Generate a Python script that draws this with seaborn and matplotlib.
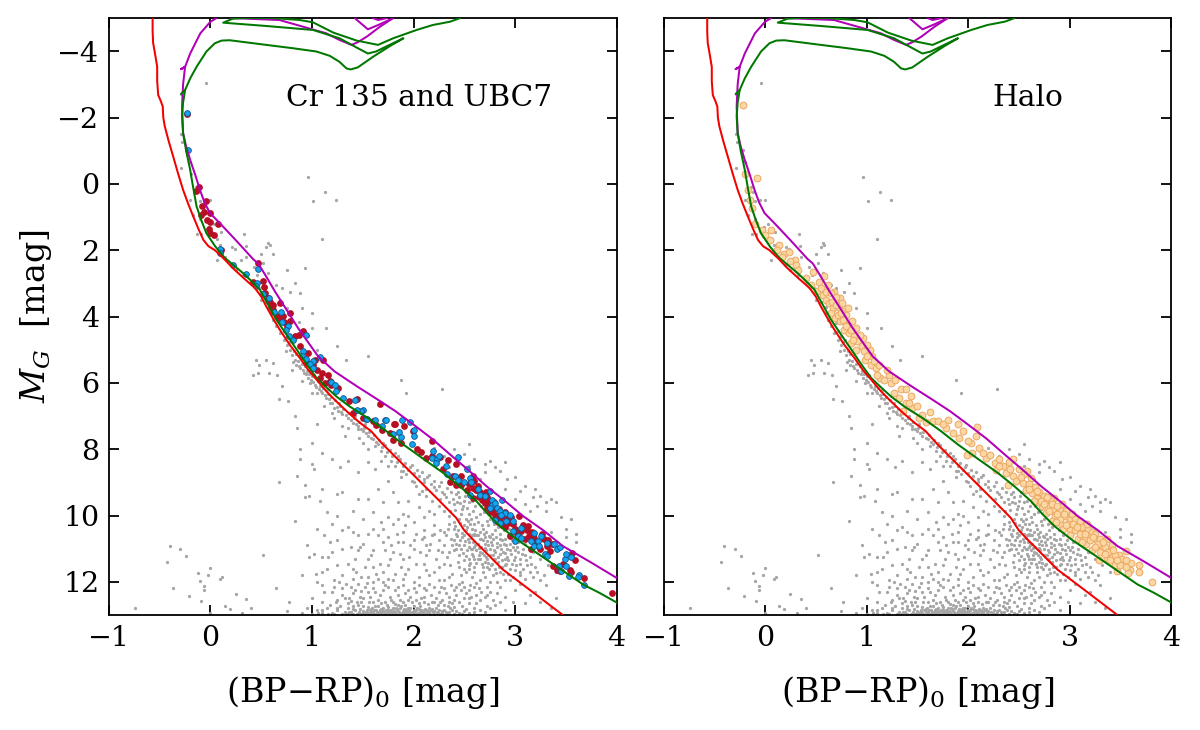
import numpy as np
import pandas as pd
import seaborn as sns
import matplotlib
matplotlib.use("Agg")
import matplotlib.pyplot as plt

sns.set_style("white")
plt.rcParams['font.family'] = ['DejaVu Serif']
plt.rcParams['mathtext.fontset'] = 'dejavuserif'
plt.rcParams['text.color'] = 'black'
plt.rcParams['axes.labelcolor'] = 'black'
plt.rcParams['xtick.labelcolor'] = 'black'
plt.rcParams['ytick.labelcolor'] = 'black'

red_iso = [(-.57,-5),(-.57,-4.6),(-.565,-4.25),(-.545,-3.9),(-.525,-3.53),(-.525,-3.1),(-.515,-2.68),(-.49,-2.5),(-.47,-2.33),(-.465,-2.0),(-.45,-1.73),(-.41,-1.27),(-.367,-.82),(-.32,-.32),(-.27,.18),(-.22,.6),(-.17,.98),(-.12,1.35),(-.07,1.69),(-.02,1.88),(.043,2.0),(.13,2.25),(.22,2.54),(.33,2.85),(.437,3.14),(.5,3.4),(.55,3.7),(.62,4.08),(.683,4.4),(.78,4.85),(.88,5.25),(.96,5.6),(1.044,5.9),(1.14,6.25),(1.24,6.56),(1.35,6.88),(1.47,7.2),(1.58,7.45),(1.7,7.86),(1.86,8.35),(2.03,8.87),(2.22,9.45),(2.42,10.07),(2.5,10.45),(2.6,10.77),(2.74,11.2),(2.88,11.63),(3.17,12.3),(3.47,13)]
green_iso = [(4,12.62),(3.83,12.33),(3.67,12.08),(3.44,11.6),(3.21,11.12),(3.03,10.75),(2.85,10.32),(2.73,9.95),(2.62,9.57),(2.46,9.13),(2.29,8.71),(2.1,8.3),(1.9,7.86),(1.73,7.45),(1.57,7.1),(1.37,6.71),(1.24,6.41),(1.13,6.1),(1.044,5.85),(.95,5.45),(.85,5.0),(.75,4.55),(.65,4.1),(.56,3.6),(.486,3.19),(.4,2.92),(.32,2.69),(.23,2.46),(.14,2.23),(.05,1.9),(-.04,1.49),(-.09,1.1),(-.137,.68),(-.17,.12),(-.2,-.42),(-.24,-1.0),(-.27,-1.53),(-.28,-2.03),(-.27,-2.45),(-.25,-2.83),(-.2,-3.18),(-.137,-3.53),(-.04,-3.99),(.043,-4.24),(.11,-4.32),(.19,-4.33),(.55,-4.19),(.81,-4.09),(1.044,-3.99),(1.175,-3.86),(1.27,-3.68),(1.34,-3.48),(1.38,-3.45),(1.45,-3.51),(1.6,-3.83),(1.77,-4.16),(1.9,-4.39),(1.73,-4.14),(1.63,-3.99),(1.55,-3.93),(1.47,-4.06),(1.27,-4.39),(1.01,-4.64),(.55,-4.76),(.125,-4.86),(.22,-4.98),(.32,-5),(.61,-5),(.88,-4.94),(1.01,-4.87),(1.21,-4.56),(1.44,-4.32),(1.65,-4.19),(1.8,-4.39),(2.03,-4.64),(2.19,-4.79),(2.36,-4.89),(2.46,-5)]
green_hook = [(-.29,-2.71),(-.25,-2.83)]
purple_iso = [(4,11.88),(3.74,11.4),(3.47,10.92),(3.28,10.45),(3.08,10.02),(2.9,9.56),(2.72,9.12),(2.54,8.63),(2.36,8.16),(2.18,7.68),(2,7.26),(1.82,6.85),(1.65,6.51),(1.44,6.1),(1.22,5.65),(1.06,5.2),(.96,4.77),(.863,4.35),(.75,3.8),(.634,3.24),(.55,2.8),(.47,2.4),(.42,2.27),(.25,1.7),(.09,1.18),(-.006,.88),(-.06,.55),(-.104,.18),(-.15,-.27),(-.2,-.72),(-.24,-1.13),(-.27,-1.53),(-.28,-2.33),(-.27,-3.0),(-.25,-3.53),(-.29,-3.46),(-.25,-3.53),(-.2,-3.93),(-.1,-4.54),(0,-4.89),(.06,-5)]
purple_top1 = [(.2,-5),(.68,-4.94),(1.14,-4.54),(1.27,-4.34),(1.39,-4.19),(1.45,-4.27),(1.54,-4.44),(1.67,-4.74),(1.8,-5)]
purple_top2 = [(1.42,-5),(1.55,-4.66),(1.66,-4.8),(1.8,-5)]
purple_top3 = [(1.6,-5),(1.65,-4.94),(1.74,-5)]

gray_pts = [(-.04,-3.05),(-.29,-2.7),(-.29,-1.5),(-.28,-1.25),(-.22,-1.02),(-.2,-.67),(-.29,-.47),(-.19,-.3),(.965,-.2),(1.13,.24),(1.01,.53),(1.24,.48),(1.1,1.65),
(.33,1.52),(.345,1.87),(.57,1.77),(.585,1.84),(.55,1.9),(.21,1.9),(.24,1.96),(.09,1.85),(.125,1.95),(-.14,.1),(-.12,.25),(-.2,.5),(-.1,.52),(-.05,.5),(.0,.5),(-.17,.95),(-.1,1.05),(-.01,1.3),(.03,1.2),(.1,1.45),(-.13,1.5),(-.09,1.5),(.06,1.65),
(.43,2.5),(.5,2.1),(.52,2.4),(.35,2.2),(.3,2.3),(.46,2.75),(.2,2.45),(.08,2.05),(.14,2.2),(.25,2.6),(.32,2.75),(.06,2.3),(.62,2.1),(.57,2.7),(.55,3.1),(.4,3.0),(.48,3.15),(.78,3.25),(.75,2.6),(.93,2.55),(.83,3.0),(.88,3.3),(.7,3.15),(.65,3.05),(.9,3.75),(.68,3.5),(.75,3.75),(.87,4.15),(1.0,4.35),(.55,3.55),(.6,3.7),(.5,3.5),(.52,3.25),(.96,4.6),(1.0,3.9),(1.14,4.35),(1.25,4.9),(1.05,5.0),(1.33,5.3),(1.55,5.2),(1.88,5.9),(1.93,6.3),(2.28,6.2),(.45,5.3),(.48,5.45),(.47,5.7),(.55,5.3),(.42,5.75),(.58,5.7),(.66,5.75),(.62,5.4),(.7,6.1),(.67,6.5),(.76,6.55),(.83,7.0),(.85,7.35),(.88,8.0),(.88,8.3),(.85,8.8),(.67,9.0),(.93,9.07),(.93,9.44),(1.0,7.8),(1.05,7.25),(1.2,6.9),(1.3,7.3),(1.32,7.6),(1.45,7.4),(1.5,7.8),(1.65,7.85),(1.1,8.1),(1.0,8.45),(1.02,8.6),(1.2,8.3),(1.28,8.55),(1.35,8.35),(1.45,8.7),(1.55,8.4),(.97,9.4),(1.1,9.2),(1.08,9.55),(1.3,9.3),(1.45,9.5),(1.65,9.2),(1.75,8.95),(1.9,8.65),(1.62,8.6),(1.8,9.3),(1.85,9.6),(1.95,9.55),(2.05,9.35),(1.6,9.9),(1.5,10.1),(1.25,10.0),(1.2,10.25),(1.35,10.35),(1.05,10.4),(.95,10.9),(1.18,10.8),(1.2,11.1),(1.3,11.0),(1.38,10.95),(1.02,11.15),(1.1,11.25),(.97,11.25),(1.45,10.6),(1.55,10.55),(1.7,10.4),(1.8,10.25),(1.9,10.5),(2.0,10.2),(2.1,10.45),(2.2,10.3),(2.0,10.75),(1.7,10.8),(1.6,11.05),(1.8,11.1),(1.55,11.3),
(.52,11.2),(.83,10.17),(.9,11.8),(1.1,12.1),(1.05,12.0),(-.12,11.73),(.0,11.58),(-.02,11.78),(-.1,11.98),(-.06,12.13),(.09,11.9),(.11,11.85),(-.09,12.58),(.25,12.38),(.35,12.51),(.14,12.73),(.19,12.83),(.4,12.78),(.31,12.93),(-.06,12.25),(.77,12.61),(.75,12.88),(-.43,11.4),(-.4,10.93),(-.3,11),(-.24,11.23),(-.37,12.2),(-.21,12.44),(-.74,12.8),(.0,12.95),(.65,12.2),
(.6,3.9),(.62,4.1),(.65,4.3),(.68,4.5),(.72,4.7),(.75,4.85),(.78,5.0),(.8,5.15),(.83,5.3),(.74,5.05),(.84,5.45),(.88,5.55),(.92,5.7),(.96,5.85),(.98,6.0),(.94,5.72),(1.0,5.8),(1.03,6.05),(1.07,6.2),(1.1,6.3),(1.05,6.3),(1.14,6.45),(1.18,6.6),(1.22,6.75),(1.16,6.35),(1.26,6.85),(1.3,6.95),(1.35,7.05),(1.28,6.7),(1.4,7.2),(1.45,7.3),(1.5,7.45),(1.42,7.0),(1.55,7.6),(1.6,7.7),(1.52,7.25),(1.62,7.9),(1.68,8.05),(1.72,8.2),(1.78,8.35),(1.7,7.8),(1.82,8.5),(1.88,8.65),(1.93,8.75),(1.85,8.2),(1.98,8.95),(2.02,9.1),(2.08,9.25),(1.97,8.55),(2.12,9.4),(2.18,9.55),(2.25,9.7),(2.1,8.9),(2.3,9.85),(2.35,10.0),(2.2,9.15),(2.28,9.3),(2.32,9.45),(2.4,9.65),(2.42,9.35),(2.48,9.8),(2.5,9.55),(2.55,9.95),(2.35,10.25),(2.4,10.4),(2.45,10.1),(2.5,10.3),(2.55,10.55),(2.6,10.25),(2.62,10.05),(2.68,10.4),(2.72,10.15),(2.75,10.65),(2.8,10.45),(2.7,10.85),(2.65,11.1),(2.75,11.0),(2.85,10.9),(2.9,10.7),(2.95,11.05),(3.0,11.25),(3.05,11.45),(3.1,11.2),(2.8,11.3),(2.9,11.5),(3.15,11.7),(2.5,10.9),(2.45,11.2),(2.55,11.3),(2.6,11.55),(2.68,11.7),(2.52,11.7),(2.58,11.85),(2.45,11.55),(2.35,11.1),(2.25,10.75),(2.15,11.05),(2.3,11.45),(2.38,11.75),(2.48,12.0),(2.56,12.1),(2.64,12.2),(2.42,12.15),(2.3,11.95),(2.2,11.7),(2.1,11.45),(2.05,11.85),(2.15,12.05),(2.25,12.3),(2.35,12.45),(2.5,12.5),(2.65,12.55),(2.75,12.3),(2.85,12.15),(2.95,11.95),(3.05,12.05),(3.2,12.3),(3.35,12.8),
(2.3,8.2),(2.4,8.0),(2.5,8.15),(2.6,8.3),(2.55,7.85),(2.75,8.35),(2.85,8.65),(2.9,8.4),(3.0,8.85),(3.1,9.1),(3.2,9.2),(3.3,9.6),(3.25,9.4),(3.4,9.6),(3.45,10.05),(3.55,10.1),(3.35,10.5),(3.5,10.4),(3.6,10.55),(3.3,9.85),(3.1,9.65),(3.0,9.5),(2.9,9.2),(2.7,8.7),(2.65,8.9),(3.15,9.85),
(1.6,12.0),(1.75,11.9),(1.9,12.1),(2.0,12.2),(1.45,12.05),(1.3,12.2),(1.2,12.3),(1.4,12.35),(1.55,12.3),(1.7,12.25),(1.85,12.4),(2.1,12.45),(1.5,12.5),(1.65,12.55),(1.8,12.6),(1.95,12.55),(2.05,12.65),(2.2,12.6),(2.3,12.7),(2.4,12.75),(2.6,12.8),(2.8,12.7),(1.0,12.5),(1.1,12.6),(1.25,12.55),(1.35,12.65),(.95,12.8),(1.05,12.85),(1.15,12.8),(1.25,12.85),(1.35,12.8),(1.45,12.7),(1.55,12.75),(1.65,12.72),(1.75,12.75),(1.85,12.7),(1.95,12.78),(2.05,12.82),(2.15,12.78),(2.25,12.85),(2.35,12.9),(2.5,12.88),(2.7,12.9),(2.9,12.85),(.9,12.95),(1.0,12.97),(1.1,12.95),(1.2,12.93),(1.3,12.96),(1.38,12.9),(1.44,12.96),(1.5,12.88),(1.55,12.95),(1.6,12.9),(1.65,12.97),(1.7,12.88),(1.74,12.94),(1.78,12.85),(1.82,12.92),(1.86,12.97),(1.9,12.87),(1.94,12.93),(1.98,12.9),(2.02,12.96),(2.06,12.9),(2.1,12.95),(2.15,12.9),(2.2,12.96),(2.28,12.95),(2.4,12.97),(1.58,12.82),(1.68,12.82),(1.72,12.97),(1.8,12.97),(1.84,12.82),(1.92,12.98),(1.96,12.84),(2.0,12.86),(2.12,12.85),(2.18,12.82),(1.62,12.98),(1.52,12.97),(1.42,12.85),(1.32,12.9),
(2.0,11.0),(1.9,11.3),(1.75,11.5),(1.6,11.55),(1.4,11.6),(1.25,11.5),(1.48,11.85),(1.95,11.6),(1.82,11.75),(2.12,10.9),(1.85,10.8),(2.4,10.75),(2.62,10.6),(2.78,11.2),(2.92,11.25),(2.55,10.8),(2.6,10.95),(2.65,10.7),(2.58,11.15),(2.63,11.3),(2.7,11.4),(2.72,11.55),(2.55,11.5),(2.48,10.65),(2.52,10.1),(2.58,10.4),(2.42,10.55),(2.32,10.6),(2.95,10.85),(3.02,10.95),(3.08,11.0),(2.88,11.1),(2.85,11.7),(2.78,11.8),(3.2,11.55),(3.28,11.8)]

gray_band = [(.7,4.2),(.72,4.45),(.75,4.6),(.77,4.78),(.79,4.72),(.82,5.05),(.84,5.12),(.86,5.35),(.81,5.38),(.87,5.5),(.9,5.42),(.91,5.6),(.93,5.5),(.95,5.65),(.97,5.72),(.99,5.92),(1.01,5.98),(1.02,5.75),(1.04,6.12),(1.06,5.95),(1.08,6.08),(1.09,6.25),(1.11,6.15),(1.13,6.38),(1.15,6.22),(1.17,6.48),(1.19,6.42),(1.2,6.62),(1.23,6.52),(1.25,6.72),(1.27,6.62),(1.29,6.88),(1.31,6.78),(1.33,6.98),(1.36,6.92),(1.38,7.12),(1.41,7.05),(1.43,7.25),(1.46,7.18),(1.48,7.38),(1.51,7.35),(1.53,7.52),(1.56,7.48),(1.58,7.66),(1.61,7.58),(1.63,7.78),(1.66,7.72),(1.69,7.92),(1.72,7.88),(1.74,8.08),(1.77,8.02),(1.79,8.22),(1.82,8.12),(1.84,8.38),(1.87,8.3),(1.9,8.5),(1.92,8.42),(1.95,8.62),(1.98,8.48),(2.0,8.72),(2.03,8.62),(2.05,8.8),(2.08,8.7),(2.1,9.0),(2.13,8.85),(2.15,8.78),(2.17,9.05),(2.2,8.95),(2.22,9.22),(2.25,9.1),(2.27,9.0),(2.3,9.35),(2.33,9.18),(2.35,9.6),(2.37,9.28),(2.39,9.5),(2.41,9.82),(2.43,9.6),(2.45,9.45),(2.47,9.95),(2.49,9.7),(2.51,9.42),(2.53,9.78),(2.55,9.6),(2.57,10.1),(2.59,9.85),(2.61,9.7),(2.63,10.2),(2.65,9.95),(2.67,10.3),(2.69,9.88),(2.71,10.5),(2.73,10.3),(2.75,10.1),(2.77,10.55),(2.79,10.25),(2.81,10.65),(2.83,10.35),(2.85,10.55),(2.87,10.75),(2.89,10.45),(2.91,10.9),(2.93,10.6),(2.97,10.75),(3.0,11.05),(3.03,10.8),(3.07,11.15),(3.11,11.35),(3.15,11.25),
(2.4,10.2),(2.42,10.85),(2.44,10.45),(2.46,10.75),(2.47,11.0),(2.5,10.6),(2.52,10.45),(2.53,11.05),(2.54,10.7),(2.56,10.25),(2.57,11.0),(2.58,10.6),(2.59,10.8),(2.6,11.3),(2.61,10.45),(2.62,11.05),(2.63,10.85),(2.64,11.2),(2.65,10.5),(2.66,10.95),(2.67,11.45),(2.68,10.75),(2.69,11.2),(2.7,10.65),(2.71,11.05),(2.72,11.3),(2.73,10.9),(2.74,11.6),(2.76,10.8),(2.77,11.45),(2.79,11.05),(2.8,11.6),(2.82,10.95),(2.83,11.4),(2.85,11.15),(2.87,11.55),(2.9,11.3),(2.93,11.75),(2.97,11.45),(3.0,11.65),(3.05,11.8),(2.7,11.85),(2.65,11.95),(2.6,11.7),(2.75,12.0),(2.5,11.35),(2.47,11.8),(2.44,11.4),(2.4,11.05),(2.37,10.7),(2.33,11.25),(2.28,11.1),(2.22,11.3),(2.18,10.6),(2.12,11.2),(2.08,10.7),(2.02,11.45),(1.97,10.9),(1.92,11.75),(1.87,11.15),(1.77,11.3),(1.72,11.05),(1.67,11.45),(1.63,11.75),(1.58,11.2),(1.52,11.55),(1.47,10.95),(1.42,11.3),(1.35,11.45),(1.3,11.8),(1.22,11.95),(1.15,11.6),(1.4,11.9),(1.55,11.85),(1.7,11.7),(1.88,11.55),(2.12,11.65),(2.25,11.55),(2.36,11.5),
(1.3,12.4),(1.36,12.5),(1.42,12.25),(1.47,12.45),(1.52,12.15),(1.57,12.45),(1.62,12.3),(1.67,12.4),(1.72,12.1),(1.77,12.45),(1.82,12.25),(1.87,12.55),(1.92,12.35),(1.97,12.45),(2.02,12.3),(2.07,12.5),(2.12,12.25),(2.17,12.4),(2.22,12.5),(2.27,12.15),(2.32,12.35),(2.37,12.1),(2.42,12.4),(2.47,12.25),(2.52,12.35),(2.57,12.45),(2.62,12.4),(2.7,12.45),(2.78,12.55),(2.45,12.62),(2.55,12.65),(2.35,12.6),(1.12,12.3),(1.18,12.7),(1.28,12.72),(1.4,12.72),(1.48,12.62),(1.6,12.62),(1.72,12.62),(1.9,12.62),(2.0,12.72),(2.1,12.6),(2.28,12.55),(1.22,12.98),(1.34,12.98),(1.4,12.97),(1.46,12.9),(1.48,12.98),(1.54,12.86),(1.56,12.98),(1.58,12.9),(1.6,12.97),(1.63,12.85),(1.66,12.9),(1.68,12.95),(1.7,12.8),(1.73,12.86),(1.76,12.92),(1.79,12.9),(1.8,12.8),(1.83,12.96),(1.85,12.88),(1.87,12.78),(1.89,12.93),(1.91,12.82),(1.93,12.88),(1.95,12.97),(1.97,12.8),(1.99,12.95),(2.01,12.88),(2.03,12.78),(2.04,12.93),(2.07,12.84),(2.09,12.98),(2.11,12.82),(2.13,12.94),(2.17,12.86),(2.19,12.92),(2.22,12.8),(2.24,12.94),(2.3,12.85),(2.33,12.97),(2.38,12.84),(2.45,12.93),(2.55,12.95),(2.65,12.85),(1.1,12.85),(1.16,12.97),(1.25,12.78),(1.06,12.95),
(1.7,9.6),(1.55,9.5),(1.4,9.85),(1.15,9.9),(1.25,9.35),(1.75,10.05),(1.95,10.0),(2.1,10.05),(2.2,9.95),(2.3,10.5),(1.65,10.6),(1.45,11.05),(1.9,9.95),(2.05,9.75),(2.15,9.85),(1.85,10.1),(1.25,10.75),(1.5,10.85),(1.75,10.65),(1.92,10.3),(3.3,12.1),(3.15,12.4),(3.0,12.25),(2.9,12.45),(3.1,11.9),(3.25,11.95),(3.4,12.5),(2.92,8.9),(3.05,9.25),(3.18,9.45),(2.8,8.55),(3.35,9.5),(3.22,9.7),(2.45,8.3),(2.35,8.55),(2.55,8.5),(2.2,7.95),(1.85,7.55),(2.7,8.45),(3.6,10.8),(3.5,10.65)]

gray_dense = [(2.41,10.32),(2.43,10.62),(2.45,10.88),(2.46,10.22),(2.48,10.52),(2.49,11.12),(2.51,10.78),(2.52,11.22),(2.53,10.35),(2.55,10.95),(2.56,11.42),(2.57,10.68),(2.58,11.02),(2.59,11.22),(2.6,10.55),(2.61,10.88),(2.62,11.42),(2.63,10.6),(2.64,10.98),(2.65,11.32),(2.66,10.72),(2.67,11.12),(2.68,11.55),(2.69,10.55),(2.7,10.98),(2.71,11.25),(2.72,10.78),(2.73,11.42),(2.74,10.62),(2.75,11.18),(2.76,11.5),(2.77,10.9),(2.78,10.7),(2.79,11.32),(2.8,11.1),(2.81,11.72),(2.82,10.82),(2.83,11.25),(2.84,11.55),(2.85,10.72),(2.86,11.02),(2.87,11.35),(2.88,11.75),(2.89,10.85),(2.9,11.12),(2.91,11.45),(2.92,11.0),(2.93,11.35),(2.95,11.6),(2.96,11.15),(2.98,10.95),(2.99,11.35),(3.01,11.5),(3.03,11.1),(3.05,11.3),(3.08,11.6),(3.12,11.5),(3.16,11.45),(3.18,11.85),(3.22,11.7),(3.05,11.7),(2.98,11.85),(2.9,11.95),(2.82,12.0),(2.72,12.15),(2.62,12.02),(2.55,11.62),(2.5,11.6),(2.42,11.0),(2.38,10.9),(2.34,10.4),(2.3,10.9),(2.26,10.45),(2.24,11.05),(2.2,10.55),(2.16,10.85),(2.1,10.65),(2.06,11.1),(2.02,10.55),(1.96,11.25),(1.9,10.8),(1.84,10.55),(1.78,10.9),(1.68,10.2),(1.6,10.4),(1.4,10.5),(1.3,10.45),(1.12,10.6),(1.1,11.7),(1.04,11.75),(1.16,11.25),
(1.22,12.15),(1.27,12.0),(1.33,12.05),(1.38,12.15),(1.43,11.7),(1.48,12.28),(1.54,12.02),(1.6,12.2),(1.65,11.9),(1.7,12.0),(1.75,12.15),(1.8,11.95),(1.85,12.15),(1.9,11.9),(1.95,12.25),(2.0,12.0),(2.05,12.1),(2.1,12.2),(2.15,11.8),(2.2,12.15),(2.25,11.95),(2.3,12.2),(2.35,11.85),(2.4,12.25),(2.45,12.05),(2.5,12.15),(2.55,12.25),(2.6,12.15),(2.66,12.3),(2.72,12.4),(2.82,12.35),(2.4,12.55),(2.48,12.72),(2.55,12.5),(2.62,12.65),(2.72,12.72),(2.85,12.6),(2.98,12.6),(3.1,12.65),(3.25,12.6),
(1.24,12.62),(1.32,12.5),(1.38,12.58),(1.44,12.62),(1.5,12.72),(1.56,12.62),(1.62,12.72),(1.68,12.65),(1.74,12.7),(1.78,12.55),(1.82,12.68),(1.88,12.72),(1.92,12.7),(1.98,12.62),(2.02,12.55),(2.06,12.72),(2.14,12.68),(2.18,12.62),(2.24,12.7),(2.26,12.62),(2.34,12.72),(2.38,12.65),(1.36,12.92),(1.4,12.82),(1.47,12.82),(1.5,12.95),(1.53,12.9),(1.57,12.86),(1.59,12.78),(1.61,12.85),(1.64,12.92),(1.67,12.86),(1.69,12.92),(1.71,12.9),(1.75,12.86),(1.77,12.97),(1.81,12.88),(1.83,12.78),(1.86,12.92),(1.88,12.98),(1.9,12.95),(1.92,12.9),(1.94,12.82),(1.96,12.92),(1.97,12.98),(2.0,12.92),(2.02,12.85),(2.05,12.96),(2.08,12.9),(2.1,12.86),(2.14,12.88),(2.16,12.96),(2.2,12.88),(2.23,12.92),(2.26,12.97),(2.28,12.88),(2.32,12.92),(2.36,12.8),(2.42,12.88),(2.48,12.98),(2.52,12.82),(2.6,12.92),(2.75,12.8),(1.75,8.5),(1.88,8.85),(2.0,9.0),(2.12,9.2),(2.26,9.5),(2.36,9.85),(2.44,9.3),(2.52,9.28),(2.58,9.55),(2.66,9.7),(2.72,9.8),(2.6,10.6),(2.86,10.25),(2.94,10.4),(3.02,10.6),(3.1,10.85),(3.18,11.1),(3.25,11.3),(3.32,11.5),(3.4,11.7),(2.54,10.15),(2.46,9.62),(1.68,8.35),(1.55,8.0),(1.46,7.65),(1.35,7.35),(1.22,7.05),(1.12,6.7),(1.0,6.3),(.9,5.95),(.8,5.6)]

red_pts = [(-.23,-2.11),(-.14,.23),(-.11,.1),(-.045,.51),(-.08,.68),(-.06,.85),(-.005,.88),(-.09,.93),(-.03,1.08),(.0,1.15),(.07,1.2),(-.01,1.37),(.0,1.47),(.03,1.53),(.1,2.0),
(.47,2.39),(.52,2.92),(.42,2.96),(.53,3.12),(.536,3.3),(.57,3.45),(.59,3.55),(.62,3.65),(.6,3.7),(.68,3.58),(.66,3.98),(.716,3.97),(.68,4.1),(.78,3.9),(.78,4.13),(.72,4.17),(.91,4.45),(.87,4.57),(.88,4.9),(.96,5.1),(1.03,5.3),(.95,5.4),(1.01,5.45),(1.11,5.32),(1.1,5.7),(1.16,5.77),(1.08,5.85),(1.13,6.0),(1.26,6.16),(1.19,6.06),(1.36,6.56),(1.44,6.49),(1.4,6.91),(1.67,6.63),(1.5,7.06),(1.6,7.16),(1.82,7.23),(1.8,7.73),(1.63,7.26),
(1.69,7.43),(1.77,7.51),(1.81,7.24),(1.91,7.31),(1.99,7.46),(1.88,7.81),(2.03,8.0),(2.07,8.08),(2.12,8.26),(2.18,7.76),(2.18,8.21),(2.26,8.23),(2.34,8.34),(2.42,8.46),(2.29,8.61),(2.36,8.99),(2.42,9.09),(2.39,8.82),(2.47,8.8),(2.47,9.07),(2.53,9.22),(2.59,8.8),(2.6,8.97),(2.59,9.17),(2.62,9.22),(2.59,9.47),(2.67,9.52),(2.7,9.62),(2.72,9.77),(2.8,9.97),(2.82,10.07),(2.88,10.02),(2.93,10.22),(2.98,10.27),(3.04,10.0),(2.95,10.62),(3.06,10.47),(3.13,10.32),(3.14,10.62),(3.19,10.67),(3.16,11.02),(3.27,10.57),(3.31,10.92),(3.34,11.07),(3.36,10.87),(3.37,11.53),(3.41,11.63),(3.47,11.47),(3.54,11.63),(3.56,11.14),(3.59,11.35),(3.68,11.88),(3.95,12.35),(3.44,11.68),(3.55,11.71),(2.75,9.9),(2.85,10.15),(2.9,9.9),(3.0,10.4),(3.1,10.7),(3.22,10.9),(2.72,9.45),(2.65,9.3),(2.96,10.05),(2.68,9.35),(2.78,9.85),(2.84,9.8),(2.92,10.1),(2.87,10.3),(3.02,10.55),(3.12,10.45),(3.2,10.8),(3.28,10.7),(2.64,9.45),(2.74,9.6),(2.55,9.05),(2.63,9.1),(2.71,9.3),(2.79,9.6),(2.83,10.2),(2.9,10.35),(3.08,10.3),(3.17,10.5),(3.25,11.0),(3.32,10.75),(.62,3.8),(.75,4.3),(.83,4.6),(1.05,5.6),(1.18,5.95)]

blue_pts = [(-.23,-2.14),(-.22,-1.02),(.09,1.95),(.09,2.07),(.22,2.44),(.35,2.71),(.47,2.57),(.46,2.99),(.45,3.07),(.52,3.31),(.575,3.45),(.63,3.87),(.69,3.86),(.7,4.18),(.76,4.28),(.74,4.4),(.775,4.58),(.815,4.72),(.945,4.55),(.91,5.05),(.9,5.18),(.94,5.28),(1.01,5.35),(.98,5.42),(1.01,5.55),(1.08,5.22),(1.185,5.96),(1.225,6.06),(1.24,6.26),(1.31,6.46),(1.425,6.51),(1.5,6.81),(1.48,6.86),(1.53,7.09),(1.62,7.13),(1.72,7.13),(1.69,7.29),(1.8,7.53),
(1.44,6.81),(1.54,7.1),(1.73,7.13),(1.89,7.13),(1.97,7.19),(1.86,7.49),(1.88,7.63),(2.0,7.41),(2.0,7.59),(1.98,7.83),(2.19,8.06),(2.18,8.28),(2.23,8.31),(2.22,8.43),(2.25,8.21),(2.44,8.24),(2.32,8.51),(2.33,8.76),(2.53,8.61),(2.41,8.82),(2.44,8.92),(2.5,9.0),(2.56,8.87),(2.57,9.0),(2.63,9.2),(2.75,9.27),(2.65,9.37),(2.7,9.42),(2.56,9.39),(2.77,9.52),(2.87,9.52),(2.77,9.67),(2.8,9.62),(2.75,9.77),(2.82,9.77),(2.85,9.87),(2.9,9.92),(2.8,10.12),(2.86,9.97),(2.95,9.97),(2.91,10.17),(2.98,10.17),(2.85,10.22),(2.98,10.47),(3.06,10.37),(3.03,10.62),(3.06,10.67),(3.0,10.77),(3.19,10.52),(3.16,10.77),(3.23,10.77),(3.26,10.62),(3.19,10.92),(3.24,10.92),(3.31,10.82),(3.38,10.87),(3.41,11.02),(3.44,10.94),(3.29,11.17),(3.31,11.22),(3.49,11.32),(3.5,11.15),(3.55,11.25),(3.5,11.52),(3.43,11.52),(3.45,11.68),(3.53,11.83),(3.63,11.78),(3.62,11.85),(3.68,12.1)]

halo_pts = [(-.22,-2.38),(-.2,-.3),(-.08,-.18),(-.17,.18),(-.15,.48),(-.13,.72),(-.1,1.2),(-.03,1.4),(0,1.55),(.05,1.7),(.14,1.85),(.19,2.1),(.29,2.3),(.24,2.05),(.06,1.38),(.12,2.0),
(.17,2.21),(.25,2.32),(.305,2.46),(.32,2.61),(.4,2.84),(.47,2.67),(.58,2.79),(.53,2.96),(.62,3.06),(.45,3.06),(.51,3.22),(.68,3.25),(.74,3.45),(.57,3.35),(.6,3.5),(.63,3.6),(.67,3.75),(.72,3.7),(.78,3.82),(.8,3.95),(.65,3.9),(.69,4.05),(.74,4.12),(.86,4.13),(.78,4.4),(.83,4.5),(.88,4.6),(.91,4.75),(.85,4.8),(.95,4.9),(1.03,5.0),(.9,5.0),(.98,5.3),(1.04,5.45),(1.09,5.55),(1.13,5.85),(1.17,5.9),(1.22,5.75),(1.24,6.0),(1.27,6.3),(1.34,6.2),(1.39,6.19),(1.32,6.46),(1.44,6.41),(1.39,6.61),(1.36,6.86),(1.45,6.76),(1.55,6.96),(1.62,6.89),(1.58,7.19),(1.65,7.16),(1.8,7.11),(1.9,7.23),(1.78,7.36),(1.85,7.51),(1.91,7.66),(2.09,7.34),(2.08,7.61),(2.03,7.81),(2.11,7.96),(1.99,8.17),(2.04,8.11),(2.18,8.27),(2.26,8.42),(2.44,8.3),(2.34,8.52),(2.27,8.62),(2.37,8.72),(2.44,8.82),(2.39,9.07),(2.58,8.67),(2.62,8.87),(2.54,9.02),(2.47,8.97),(2.57,9.22),(2.63,9.32),(2.68,9.47),(2.73,9.72),(2.85,9.47),(2.8,9.67),(2.77,9.92),(2.9,9.82),(2.86,10.02),(2.95,10.02),(3.0,10.12),(2.91,10.27),(2.83,10.17),(3.08,10.27),(3.0,10.42),(3.13,10.52),(3.08,10.72),(3.19,10.62),(3.26,10.72),(3.16,10.87),(3.37,10.72),(3.32,10.92),(3.22,11.03),(3.41,11.08),(3.49,11.18),(3.55,11.08),(3.37,11.28),(3.29,11.33),(3.45,11.48),(3.6,11.43),(3.68,11.48),(3.68,11.71),(3.59,11.63),(3.47,11.68),(3.57,11.73),(3.81,12.01),
(.7,3.4),(.66,3.55),(.76,3.6),(.82,3.75),(.72,3.95),(.82,4.25),(.9,4.35),(.96,4.65),(1.0,4.85),(1.05,5.2),(1.12,5.45),(1.2,5.6),(1.28,5.9),(2.22,8.18),(2.3,8.3),(2.4,8.4),(2.5,8.6),(2.55,8.75),(2.6,9.05),(2.66,9.15),(2.7,9.3),(2.75,9.4),(2.82,9.55),(2.7,9.6),(2.76,9.55),(2.84,9.8),(2.92,9.65),(2.96,9.85),(3.02,9.95),(2.98,10.25),(3.05,10.1),(3.1,10.15),(3.05,10.45),(3.12,10.35),(3.18,10.4),(3.14,10.7),(3.22,10.5),(3.25,10.55),(3.3,10.7),(3.28,10.85),(3.35,10.95),(3.42,10.9),(3.25,10.95),(3.38,11.1),(3.45,11.2),(3.52,11.3),(3.4,11.35),(3.5,11.5),(3.55,11.55),(2.9,10.1),(2.93,10.4),(2.88,9.95),(2.8,9.85),(2.72,9.55),(2.65,9.55),(3.1,10.55),(3.2,10.75),(3.3,11.1),
(.55,3.15),(.6,3.25),(.65,3.3),(.7,3.65),(.75,3.9),(.77,4.1),(.8,4.3),(.85,4.4),(.87,4.7),(.93,4.55),(.97,5.05),(1.0,5.2),(1.07,5.35),(1.1,5.75),(1.42,6.6),(1.5,6.7),(1.52,7.05),(1.7,7.15),(1.75,7.25),(1.95,7.45),(2.0,7.75),(2.15,8.1),(2.3,8.5),(2.41,8.6),(2.52,8.85),(2.6,9.2),(2.68,9.25),(2.75,9.65),(2.78,9.45),(2.83,9.65),(2.88,9.7),(2.94,9.95),(3.03,10.25),(3.07,10.35),(3.15,10.55),(3.17,10.25),(3.23,10.65),(3.33,10.8),(3.43,11.05),(2.87,10.2),(2.96,10.3),(3.0,10.6),(3.12,10.8),(3.35,11.15),(3.47,11.35),(3.55,11.35)]

x_ticks = [-1, 0, 1, 2, 3, 4]
y_ticks = [-4, -2, 0, 2, 4, 6, 8, 10, 12]
x_label = "(BP\u2212RP)$_0$ [mag]"
y_label = "$M_G$  [mag]"
panel_titles = ["Cr 135 and UBC7", "Halo"]

def frame(pts):
    return pd.DataFrame(pts, columns=["color", "mag"])

def draw_lines(ax):
    for pts, col in [(purple_iso, "#b000b8"), (purple_top1, "#b000b8"), (purple_top2, "#b000b8"), (purple_top3, "#b000b8"),
                     (green_iso, "#007800"), (green_hook, "#007800"), (red_iso, "#f50000")]:
        sns.lineplot(data=frame(pts), x="color", y="mag", sort=False, estimator=None, color=col, lw=1.45, ax=ax, zorder=4)

fig, axes = plt.subplots(1, 2, figsize=(12, 7.3), dpi=100, sharey=True)
fig.subplots_adjust(left=0.0908, right=0.976, top=0.9753, bottom=0.1575, wspace=0.0925)

for ax in axes:
    sns.scatterplot(data=frame(gray_pts + gray_band + gray_dense), x="color", y="mag", color="#a6a6a6", s=5.5, linewidth=0, ax=ax, zorder=1)

sns.scatterplot(data=frame(red_pts), x="color", y="mag", color="#b80f24", s=24, linewidth=0, ax=axes[0], zorder=2)
sns.scatterplot(data=frame(blue_pts), x="color", y="mag", color="#12a5f0", edgecolor="#10508c", s=17, linewidth=0.6, ax=axes[0], zorder=3)
sns.scatterplot(data=frame(halo_pts), x="color", y="mag", color="#fbd7a3", edgecolor="#eba863", s=24, linewidth=0.7, ax=axes[1], zorder=2)

for ax, title, tx in zip(axes, panel_titles, [2.055, 2.585]):
    draw_lines(ax)
    ax.set_xlim(-1, 4)
    ax.set_ylim(13, -5)
    ax.set_xticks(x_ticks)
    ax.set_yticks(y_ticks)
    ax.tick_params(axis="both", which="major", direction="in", top=True, right=True, bottom=True, left=True,
                   length=7.5, width=1.3, labelsize=20.5, pad=7, color="black")
    ax.set_xlabel(x_label, fontsize=24, labelpad=16)
    ax.set_ylabel("")
    for s in ax.spines.values():
        s.set_linewidth(1.3)
        s.set_color("black")
    ax.text(tx, -2.6, title, fontsize=21.3, ha="center", va="center", color="black")

axes[0].set_ylabel(y_label, fontsize=24, labelpad=2)
axes[1].tick_params(labelleft=False)
fig.savefig("out.png", dpi=100)
